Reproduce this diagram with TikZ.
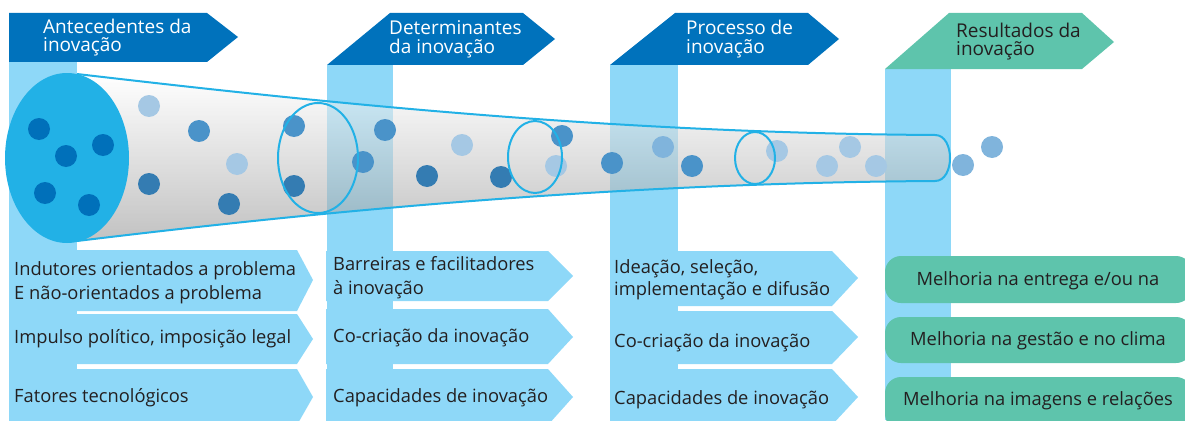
\documentclass[tikz,border=0pt]{standalone}
\usepackage{fontspec}
\setmainfont{Open Sans}
\usepackage{tikz}
\definecolor{headblue}{RGB}{0,114,188}
\definecolor{headgreen}{RGB}{94,196,172}
\definecolor{colblue}{RGB}{142,216,248}
\definecolor{tubeblue}{RGB}{34,177,230}
\definecolor{inkdark}{RGB}{35,31,32}
\definecolor{dotdark}{RGB}{0,112,186}
\definecolor{dotmid}{RGB}{74,147,201}
\definecolor{dotdeep}{RGB}{52,124,178}
\definecolor{dotlight}{RGB}{165,200,228}
\definecolor{dotpale}{RGB}{128,180,220}
\tikzset{headtext/.style = {text=white, inner sep=0, anchor=base west, align=left,
                            font=\fontsize{19}{18.5}\selectfont}}
\tikzset{boxtext/.style = {text=inkdark, inner sep=0, anchor=base west, align=left,
                           font=\fontsize{18.3}{23.5}\selectfont}}
\tikzset{restext/.style = {text=inkdark, inner sep=0, anchor=base,
                           font=\fontsize{18.3}{23.5}\selectfont}}
\tikzset{ring/.style = {draw=tubeblue, line width=2}}

\begin{document}
\begin{tikzpicture}[x=1pt, y=-1pt]
      \useasboundingbox (0, 0) rectangle (1185, 420);
      \fill [colblue] (9, 62) rectangle (77, 420);
      \fill [colblue] (327, 65) rectangle (393, 420);
      \fill [colblue] (610, 65) rectangle (678, 420);
      \fill [colblue] (885, 69) rectangle (951, 420);
      \fill [headblue] (9, 13) -- (207, 13) -- (238, 37) -- (207, 62) -- (9, 62) -- cycle;
      \fill [headblue] (327, 65) -- (390, 13) -- (523, 13) -- (555, 39) -- (523, 65) -- cycle;
      \fill [headblue] (610, 65) -- (675, 13) -- (808, 13) -- (839, 39) -- (808, 65) -- cycle;
      \fill [headgreen] (885, 69) -- (949, 13) -- (1082, 13) -- (1114, 42) -- (1082, 69) -- cycle;
      \fill [colblue] (9, 250) -- (297, 250) -- (313, 280) -- (297, 311) -- (9, 311) -- cycle;
      \fill [colblue] (9, 314) -- (297, 314) -- (313, 339) -- (297, 364) -- (9, 364) -- cycle;
      \fill [colblue] (9, 369) -- (297, 369) -- (313, 397) -- (297, 425) -- (9, 425) -- cycle;
      \fill [colblue] (326, 251) -- (548, 251) -- (573, 276) -- (548, 301) -- (326, 301) -- cycle;
      \fill [colblue] (326, 309) -- (548, 309) -- (573, 337) -- (548, 364) -- (326, 364) -- cycle;
      \fill [colblue] (326, 369) -- (548, 369) -- (573, 397) -- (548, 425) -- (326, 425) -- cycle;
      \fill [colblue] (610, 251) -- (832, 251) -- (858, 278) -- (832, 306) -- (610, 306) -- cycle;
      \fill [colblue] (610, 311) -- (832, 311) -- (858, 337) -- (832, 364) -- (610, 364) -- cycle;
      \fill [colblue] (610, 369) -- (832, 369) -- (858, 397) -- (832, 425) -- (610, 425) -- cycle;
      \fill [headgreen, rounded corners=16] (885, 256) rectangle (1192, 303);
      \fill [headgreen, rounded corners=16] (885, 317) rectangle (1192, 363);
      \fill [headgreen, rounded corners=16] (885, 377) rectangle (1192, 430);
      \shade [top color=white, bottom color=black!40, fill opacity=0.6]
        (77, 74) .. controls (300, 100) and (600, 133) .. (935, 135)
        .. controls (955, 135) and (955, 181) .. (935, 181)
        .. controls (600, 183) and (300, 214) .. (77, 241) -- cycle;
      \draw [tubeblue, line width=2]
        (77, 74) .. controls (300, 100) and (600, 133) .. (935, 135)
        .. controls (955, 135) and (955, 181) .. (935, 181)
        .. controls (600, 183) and (300, 214) .. (77, 241);
      \fill [tubeblue] (67, 158) ellipse (62 and 85);
      \foreach \x/\y in {39/129, 66/156, 103/145, 45/193, 89/205}
        \fill [dotdark] (\x, \y) circle (11);
      \foreach \x/\y/\c in {149/106/dotlight, 199/131/dotmid, 237/164/dotlight,
                            149/184/dotdeep, 229/204/dotdeep, 294/126/dotmid,
                            294/186/dotdeep, 385/130/dotmid, 363/162/dotmid,
                            462/145/dotlight, 427/176/dotdeep, 501/177/dotdeep,
                            562/136/dotmid, 556/166/dotlight, 612/163/dotmid,
                            663/147/dotpale, 692/166/dotmid, 777/151/dotlight,
                            850/147/dotlight, 827/166/dotlight, 876/166/dotlight,
                            963/165/dotpale, 992/147/dotpale}
        \fill [\c] (\x, \y) circle (11);
      \draw [ring] (318, 158) ellipse (40 and 55);
      \draw [ring] (535, 157) ellipse (27 and 36);
      \draw [ring] (755, 158) ellipse (20 and 26);
      \node [headtext] (hant) at (43, 52) {Antecedentes da\\inovação};
      \node [headtext] (hdet) at (389, 53) {Determinantes\\da inovação};
      \node [headtext] (hpro) at (686, 53) {Processo de\\inovação};
      \node [headtext, text=inkdark] (hres) at (956, 56) {Resultados da\\inovação};
      \node [boxtext] (ant1) at (14, 299) {Indutores orientados a problema\\E não-orientados a problema};
      \node [boxtext] (ant2) at (14, 343) {Impulso político, imposição legal};
      \node [boxtext] (ant3) at (14, 402) {Fatores tecnológicos};
      \node [boxtext] (det1) at (333, 294) {Barreiras e facilitadores\\à inovação};
      \node [boxtext] (det2) at (333, 342) {Co-criação da inovação};
      \node [boxtext] (det3) at (333, 402) {Capacidades de inovação};
      \node [boxtext, font=\fontsize{18.3}{22}\selectfont] (pro1) at (614, 295) {Ideação, seleção,\\implementação e difusão};
      \node [boxtext] (pro2) at (614, 347) {Co-criação da inovação};
      \node [boxtext] (pro3) at (614, 404) {Capacidades de inovação};
      \node [restext] (res1) at (1038, 285) {Melhoria na entrega e/ou na};
      \node [restext] (res2) at (1038, 345) {Melhoria na gestão e no clima};
      \node [restext] (res3) at (1038, 405) {Melhoria na imagens e relações};
    \end{tikzpicture}
\end{document}
